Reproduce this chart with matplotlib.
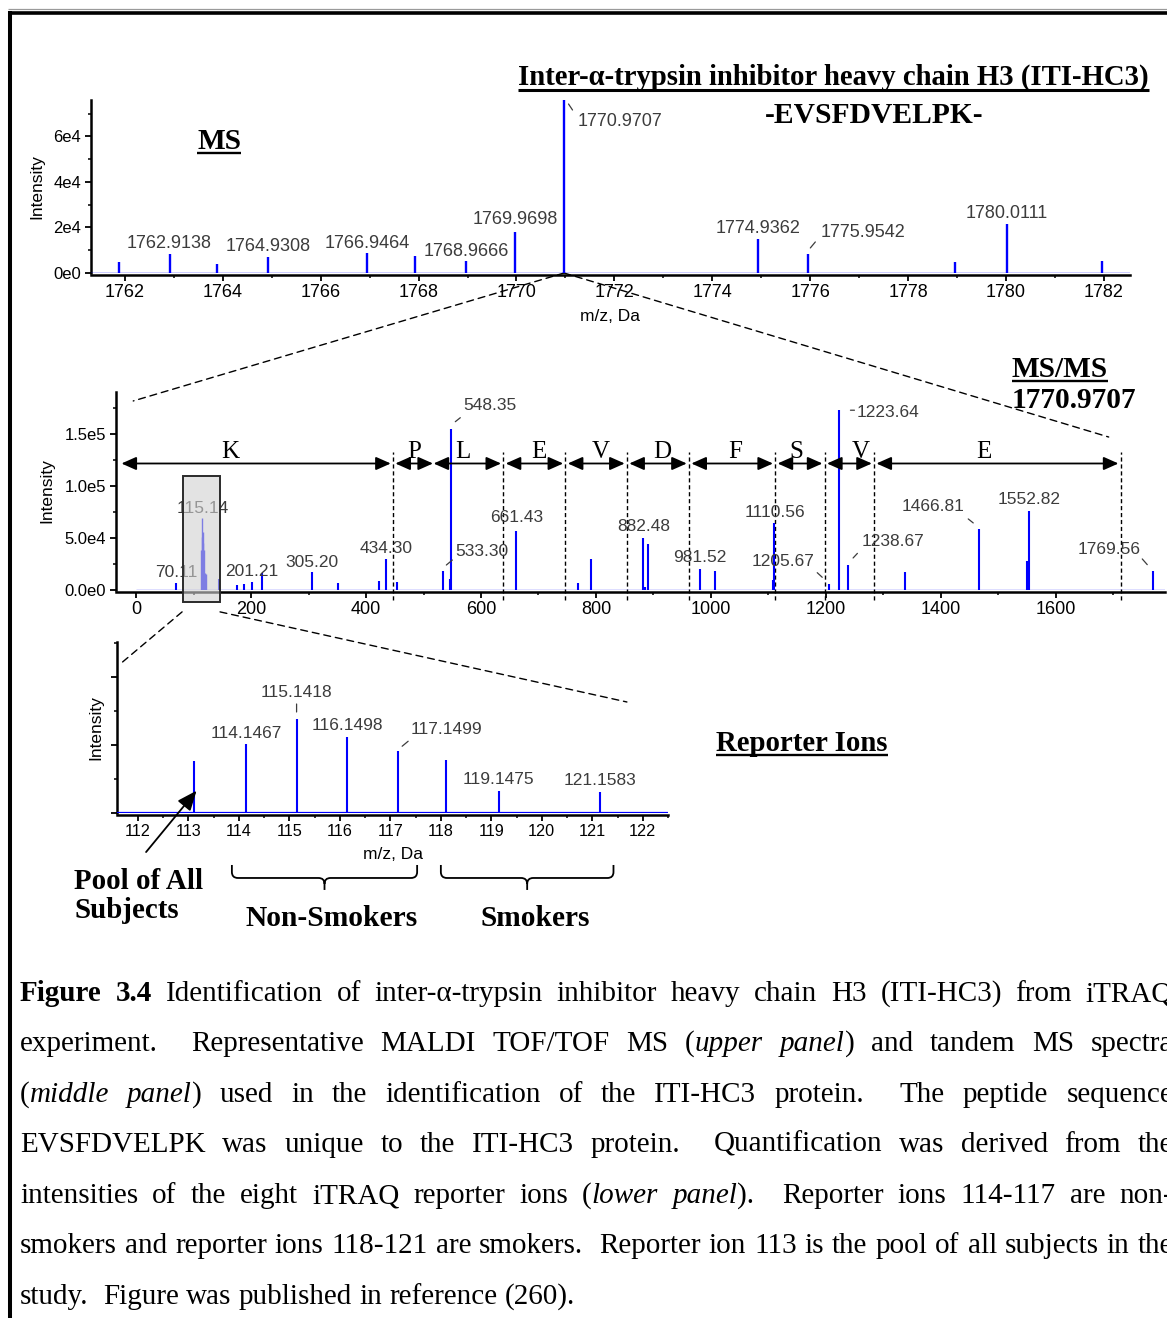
import re
import numpy as np
import matplotlib
matplotlib.use("Agg")
import matplotlib.pyplot as plt
from matplotlib import transforms
from matplotlib.patches import Rectangle, ConnectionPatch, PathPatch
from matplotlib.path import Path
from matplotlib.ticker import MultipleLocator, FuncFormatter, NullFormatter

plt.rcParams['font.family'] = ['Liberation Sans', 'DejaVu Sans']
SERIF = ['Liberation Serif', 'DejaVu Serif']

# ---------------- MS survey scan around the precursor ----------------
ms_mz = [1761.88, 1762.9138, 1763.88, 1764.9308, 1766.9464, 1767.93, 1768.9666,
         1769.9698, 1770.9707, 1774.9362, 1775.9542, 1778.95, 1780.0111, 1781.95]
ms_int = [5.0e3, 8.5e3, 3.8e3, 7.0e3, 8.6e3, 7.4e3, 5.1e3,
          1.82e4, 7.6e4, 1.51e4, 8.5e3, 4.8e3, 2.14e4, 5.1e3]
ms_labels = [1762.9138, 1764.9308, 1766.9464, 1768.9666, 1769.9698,
             1770.9707, 1774.9362, 1775.9542, 1780.0111]
precursor_mz = 1770.9707

# ---------------- MS/MS fragment spectrum of the precursor ----------------
msms_mz = [70.11, 144.10, 175.12, 188.0, 201.21, 219.0, 305.20, 352.0, 422.0, 434.30,
           454.0, 533.30, 546.5, 548.35, 661.43, 768.0, 791.0, 882.48, 886.0, 891.0,
           981.52, 1007.0, 1108.5, 1110.56, 1205.67, 1223.64, 1238.67, 1337.0,
           1466.81, 1550.5, 1552.82, 1769.56]
msms_int = [6.4e3, 1.06e4, 4.8e3, 5.4e3, 7.3e3, 1.65e4, 1.73e4, 6.4e3, 8.6e3, 2.94e4,
            7.7e3, 1.85e4, 1.05e4, 1.545e5, 5.7e4, 6.4e3, 2.94e4, 5.0e4, 3.0e3, 4.4e4,
            2.0e4, 1.8e4, 1.0e4, 6.4e4, 5.3e3, 1.73e5, 2.43e4, 1.73e4,
            5.86e4, 2.8e4, 7.6e4, 1.79e4]
msms_labels = [70.11, 115.14, 201.21, 305.20, 434.30, 533.30, 548.35, 661.43, 882.48,
               981.52, 1110.56, 1205.67, 1223.64, 1238.67, 1466.81, 1552.82, 1769.56]

# y-ion ladder: residue letters and m/z boundaries between successive fragments
seq_res = ['K', 'P', 'L', 'E', 'V', 'D', 'F', 'S', 'V', 'E']
seq_bounds = [-26, 447, 517, 639, 747, 854, 962, 1112, 1198, 1284, 1713]
seq_label_mz = [164, 484, 569, 700, 809, 915, 1043, 1149, 1260, 1475]
seq_marked = [447, 639, 747, 854, 962, 1112, 1198, 1284, 1713]

# ---------------- iTRAQ 8-plex reporter ions ----------------
reporter_mz = [113.11, 114.1467, 115.1418, 116.1498, 117.1499, 118.11, 119.1475, 121.1583]
reporter_int = [3.80e4, 5.07e4, 6.91e4, 5.61e4, 4.54e4, 3.87e4, 1.64e4, 1.57e4]
reporter_labels = [114.1467, 115.1418, 116.1498, 117.1499, 119.1475, 121.1583]
zoom_window = (82, 146)

caption_lines = [
    "*Figure* *3.4* Identification of inter-\u03b1-trypsin inhibitor heavy chain H3 (ITI-HC3) from iTRAQ",
    "experiment.  Representative MALDI TOF/TOF MS (_upper_ _panel_) and tandem MS spectra",
    "(_middle_ _panel_) used in the identification of the ITI-HC3 protein.  The peptide sequence",
    "EVSFDVELPK was unique to the ITI-HC3 protein.  Quantification was derived from the",
    "intensities of the eight iTRAQ reporter ions (_lower_ _panel_).  Reporter ions 114-117 are non-",
    "smokers and reporter ions 118-121 are smokers.  Reporter ion 113 is the pool of all subjects in the",
    "study.  Figure was published in reference (260).",
]

# ---------------- figure scaffolding ----------------
W, H = 1167, 1318
fig = plt.figure(figsize=(W / 100, H / 100), dpi=100)
fig.patch.set_facecolor('white')


def frame(l, t, r, b):
    return [l / W, 1 - b / H, (r - l) / W, (b - t) / H]


page = fig.add_axes([0, 0, 1, 1], zorder=0)
page.set_xlim(0, W)
page.set_ylim(H, 0)
page.axis('off')

ax_ms = fig.add_axes(frame(91, 100, 1130, 273), zorder=2)
ax_msms = fig.add_axes(frame(116, 392, 1165, 590), zorder=2)
ax_rep = fig.add_axes(frame(117, 642, 668, 813), zorder=2)

BLUE = '#0000ff'
GREY = '#3c3c3c'


def style_axes(ax, xtick_fs=13, ytick_fs=12):
    ax.set_facecolor('none')
    for s in ('top', 'right'):
        ax.spines[s].set_visible(False)
    for s in ('left', 'bottom'):
        ax.spines[s].set_linewidth(1.8)
    ax.spines['bottom'].set_position(('outward', 1.2))
    ax.tick_params(which='major', direction='out', length=4, width=1.3,
                   pad=3, colors='black')
    ax.tick_params(which='minor', direction='out', length=2.5, width=1.1)
    ax.tick_params(axis='x', labelsize=xtick_fs)
    ax.tick_params(axis='y', labelsize=ytick_fs)


def sci_plain(v, pos):
    if abs(v) < 1e-9:
        return '0e0'
    e = int(np.floor(np.log10(abs(v)) + 1e-9))
    return f'{v / 10 ** e:.0f}e{e}'


def sci_one(v, pos):
    if abs(v) < 1e-9:
        return '0.0e0'
    e = int(np.floor(np.log10(abs(v)) + 1e-9))
    return f'{v / 10 ** e:.1f}e{e}'


def place_axis_labels(ax, xlab, xy_x, ylab, xy_y, fs=12.5):
    if xlab:
        lx = ax.set_xlabel(xlab, fontsize=fs)
        lx.set_va('center')
        ax.xaxis.set_label_coords(*xy_x)
    ly = ax.set_ylabel(ylab, fontsize=fs)
    ly.set_va('center')
    ax.yaxis.set_label_coords(*xy_y)


def peak_label(ax, mz, inten, text, dx=0.0, dy=12.5, ha='center', leader=None,
               size=12.5, z=3):
    half = 0.358 * size / 0.72
    tr = transforms.offset_copy(ax.transData, fig=fig, x=dx, y=dy - half, units='dots')
    ax.text(mz, inten, text, transform=tr, ha=ha, va='baseline', fontsize=size,
            color=GREY, zorder=z, clip_on=False)
    if leader:
        (x1, y1), (x2, y2) = leader
        ax.annotate('', xy=(mz, inten),
                    xycoords=transforms.offset_copy(ax.transData, fig=fig, x=x1, y=y1, units='dots'),
                    xytext=(mz, inten),
                    textcoords=transforms.offset_copy(ax.transData, fig=fig, x=x2, y=y2, units='dots'),
                    arrowprops=dict(arrowstyle='-', lw=0.9, color=GREY, shrinkA=0, shrinkB=0),
                    zorder=z)


def nearest(mzs, ints, target):
    i = int(np.argmin(np.abs(np.asarray(mzs) - target)))
    return mzs[i], ints[i]


for ax in (ax_ms, ax_msms):
    style_axes(ax)
style_axes(ax_rep, xtick_fs=11.7, ytick_fs=11.7)

# ---------------- upper panel: MS ----------------
ax_ms.set_xlim(1761.31, 1782.53)
ax_ms.set_ylim(0, 7.6e4)
ax_ms.axhline(0, color=BLUE, lw=1.0, zorder=2.6)
ax_ms.vlines(ms_mz, 0, ms_int, color=BLUE, lw=1.7, zorder=3)
ax_ms.xaxis.set_major_locator(MultipleLocator(2))
ax_ms.xaxis.set_minor_locator(MultipleLocator(1))
ax_ms.yaxis.set_major_locator(MultipleLocator(2e4))
ax_ms.yaxis.set_minor_locator(MultipleLocator(1e4))
ax_ms.yaxis.set_major_formatter(FuncFormatter(sci_plain))
place_axis_labels(ax_ms, 'm/z, Da', (0.5, -0.249), 'Intensity', (-0.052, 0.5))

ms_label_style = {
    1769.9698: dict(dy=13.6),
    1770.9707: dict(dx=14, dy=-20, ha='left', leader=((4.5, -4), (8.5, -10))),
    1775.9542: dict(dx=12.3, dy=22.7, ha='left', leader=((2.3, 5.7), (7.3, 11.7))),
}
for m in ms_labels:
    pm, pi = nearest(ms_mz, ms_int, m)
    peak_label(ax_ms, pm, pi, f'{m:.4f}', size=13, **ms_label_style.get(m, dict(dy=12.3)))

# ---------------- middle panel: MS/MS ----------------
ax_msms.set_xlim(-35, 1790)
ax_msms.set_ylim(0, 1.9e5)
ax_msms.hlines(0, 0, 1790, color='#5a5aff', lw=1.0, zorder=2.6)
ax_msms.vlines(msms_mz, 0, msms_int, color=BLUE, lw=1.5, zorder=3)
ax_msms.vlines(reporter_mz, 0, reporter_int, color=BLUE, lw=1.0, zorder=3)
ax_msms.xaxis.set_major_locator(MultipleLocator(200))
ax_msms.xaxis.set_minor_locator(MultipleLocator(100))
ax_msms.yaxis.set_major_locator(MultipleLocator(5e4))
ax_msms.yaxis.set_minor_locator(MultipleLocator(2.5e4))
ax_msms.yaxis.set_major_formatter(FuncFormatter(sci_one))
place_axis_labels(ax_msms, None, None, 'Intensity', (-0.0658, 0.5))

msms_label_style = {
    115.14: dict(dy=11),
    305.20: dict(dy=11),
    533.30: dict(dx=12.7, dy=20.7, ha='left', leader=((3.7, 5.7), (9.7, 10.7))),
    548.35: dict(dx=12, dy=25, ha='left', leader=((4, 7.3), (9, 11.3))),
    661.43: dict(dy=14.6),
    1205.67: dict(dx=-45.6, dy=24.5, leader=((-6.9, 7.2), (-11.9, 11.8))),
    1223.64: dict(dx=17.3, dy=-0.7, ha='left', leader=((11, -0.5), (15, -0.5))),
    1238.67: dict(dx=13.3, dy=24.7, ha='left', leader=((5, 6.7), (9.3, 11.3))),
    1466.81: dict(dx=-46, dy=24.3, leader=((-6, 6), (-11, 10))),
    1552.82: dict(dy=13.3),
    1769.56: dict(dx=-44.3, dy=24, leader=((-6, 6.7), (-11, 12.4))),
}
for m in msms_labels:
    if zoom_window[0] < m < zoom_window[1]:
        pm, pi = nearest(reporter_mz, reporter_int, m)
    else:
        pm, pi = nearest(msms_mz, msms_int, m)
    peak_label(ax_msms, pm, pi, f'{m:.2f}', **msms_label_style.get(m, dict(dy=13)))

# shaded window over the reporter-ion region
ax_msms.add_patch(Rectangle((zoom_window[0], -1.15e4), zoom_window[1] - zoom_window[0], 1.209e5,
                            facecolor=(0.82, 0.82, 0.82, 0.6), edgecolor='#2a2a2a',
                            lw=1.4, zorder=4, clip_on=False))

# y-ion ladder
arrow_y, letter_y = 1.214e5, 1.27e5
for x in seq_marked:
    ax_msms.plot([x, x], [-0.96e4, 1.324e5], color='black', lw=1.0,
                 ls=(0, (3.0, 2.0)), zorder=2.5, clip_on=False)
for i, res in enumerate(seq_res):
    a, b = seq_bounds[i], seq_bounds[i + 1]
    pa = 4 if a in seq_marked else 0.5
    pb = 4 if b in seq_marked else 0.5
    ax_msms.annotate('', xy=(b - pb, arrow_y), xytext=(a + pa, arrow_y),
                     arrowprops=dict(arrowstyle='<|-|>,head_length=0.45,head_width=0.2',
                                     mutation_scale=20, lw=1.3, color='black',
                                     shrinkA=0, shrinkB=0), zorder=5)
    ax_msms.text(seq_label_mz[i], letter_y, res, ha='center', va='baseline',
                 fontsize=18, family=SERIF, color='black', zorder=5)

# ---------------- lower panel: reporter ions ----------------
ax_rep.set_xlim(111.584, 122.5)
ax_rep.set_ylim(0, 1.257e5)
ax_rep.axhline(0, color=BLUE, lw=1.6, zorder=2.6)
ax_rep.vlines(reporter_mz, 0, reporter_int, color=BLUE, lw=1.5, zorder=3)
ax_rep.xaxis.set_major_locator(MultipleLocator(1))
ax_rep.xaxis.set_minor_locator(MultipleLocator(0.5))
ax_rep.yaxis.set_major_locator(MultipleLocator(5e4))
ax_rep.yaxis.set_minor_locator(MultipleLocator(2.5e4))
ax_rep.yaxis.set_major_formatter(NullFormatter())
place_axis_labels(ax_rep, 'm/z, Da', (0.5, -0.2456), 'Intensity', (-0.0381, 0.5))

rep_label_style = {
    115.1418: dict(dy=28, leader=((0, 7), (0, 15))),
    117.1499: dict(dx=12.2, dy=23, ha='left', leader=((4.2, 5), (10.2, 10))),
}
for m in reporter_labels:
    pm, pi = nearest(reporter_mz, reporter_int, m)
    peak_label(ax_rep, pm, pi, f'{m:.4f}', **rep_label_style.get(m, dict(dy=12.5)))

# braces grouping the channels
bt = transforms.blended_transform_factory(ax_rep.transData, ax_rep.transAxes)


def brace(x0, x1, ytop=-0.304, ybar=-0.380, ytip=-0.450, rx=0.12, ry=0.035):
    xc = 0.5 * (x0 + x1)
    verts = [(x0, ytop), (x0, ybar + ry), (x0, ybar), (x0 + rx, ybar),
             (xc - rx, ybar), (xc, ybar), (xc, ybar - ry), (xc, ytip),
             (xc, ybar - ry), (xc, ybar), (xc + rx, ybar),
             (x1 - rx, ybar), (x1, ybar), (x1, ybar + ry), (x1, ytop)]
    codes = [Path.MOVETO, Path.LINETO, Path.CURVE3, Path.CURVE3,
             Path.LINETO, Path.CURVE3, Path.CURVE3, Path.LINETO,
             Path.MOVETO, Path.CURVE3, Path.CURVE3,
             Path.LINETO, Path.CURVE3, Path.CURVE3, Path.LINETO]
    ax_rep.add_patch(PathPatch(Path(verts, codes), transform=bt, fill=False,
                               lw=1.3, color='black', clip_on=False))


brace(113.86, 117.53)
brace(118.0, 121.42)

ax_rep.annotate('', xy=(113.16, 1.64e4), xytext=(112.16, -2.87e4),
                arrowprops=dict(arrowstyle='-|>,head_length=0.6,head_width=0.25',
                                mutation_scale=20, lw=1.3, color='black',
                                shrinkA=0, shrinkB=0), zorder=5)

# ---------------- zoom connectors ----------------
dash = (0, (5.0, 3.5))
for xyB in [(-5, 1.814e5), (1692, 1.468e5)]:
    fig.add_artist(ConnectionPatch(xyA=(precursor_mz, 0), coordsA=ax_ms.transData,
                                   xyB=xyB, coordsB=ax_msms.transData,
                                   ls=dash, lw=1.0, color='black'))
for xyA, xyB in [((80, -2.1e4), (111.646, 1.095e5)), ((146, -2.1e4), (121.686, 8.16e4))]:
    fig.add_artist(ConnectionPatch(xyA=xyA, coordsA=ax_msms.transData,
                                   xyB=xyB, coordsB=ax_rep.transData,
                                   ls=dash, lw=1.0, color='black'))

# ---------------- page border ----------------
page.plot([8, W], [8.5, 8.5], color='#9a9a9a', lw=0.9, solid_capstyle='butt')
page.plot([8, W], [12.5, 12.5], color='black', lw=2.6, solid_capstyle='butt')
page.plot([10, 10], [11, H], color='black', lw=2.9, solid_capstyle='butt')

renderer = fig.canvas.get_renderer()


def width_of(t):
    return t.get_window_extent(renderer).width


def headline(s, x0, x1, baseline, size=21, underline=None):
    t = page.text(x0, baseline, s, ha='left', va='baseline', fontsize=size,
                  family=SERIF, fontweight='bold', color='black')
    w = width_of(t)
    t.set_fontsize(float(np.clip(size * (x1 - x0) / w, size * 0.85, size * 1.12)))
    if underline:
        w = width_of(t)
        page.plot([x0, x0 + w], [baseline + underline[0]] * 2, color='black',
                  lw=underline[1], solid_capstyle='butt')
    return t


headline('Inter-\u03b1-trypsin inhibitor heavy chain H3 (ITI-HC3)', 518, 1150, 85,
         size=20, underline=(5, 2.2))
headline('-EVSFDVELPK-', 765, 983, 123)
headline('MS', 197, 241, 149, underline=(3.5, 1.7))
headline('MS/MS', 1012, 1108, 377, underline=(3.5, 1.7))
headline('1770.9707', 1012, 1137, 408)
headline('Reporter Ions', 716, 887, 751, size=20, underline=(3.5, 1.7))
headline('Pool of All', 74, 203, 889)
headline('Subjects', 74, 178, 918)
headline('Non-Smokers', 246, 418, 926)
headline('Smokers', 481, 590, 926)

# ---------------- justified caption ----------------
CAP_FS = 21
CAP_L, CAP_R = 20, 1173
cap_base = [1001, 1051, 1102, 1152, 1203, 1253, 1304]


def segments(word):
    segs, bold, ital, buf = [], False, False, ''
    for ch in word:
        if ch in '*_':
            if buf:
                segs.append((buf, bold, ital))
                buf = ''
            if ch == '*':
                bold = not bold
            else:
                ital = not ital
        else:
            buf += ch
    if buf:
        segs.append((buf, bold, ital))
    return segs


def cap_text(s, y, bold=False, ital=False):
    return page.text(0, y, s, fontsize=CAP_FS, family=SERIF,
                     fontweight='bold' if bold else 'normal',
                     fontstyle='italic' if ital else 'normal',
                     ha='left', va='baseline', color='black')


t1, t2 = cap_text('n n', 0), cap_text('nn', 0)
space_w = width_of(t1) - width_of(t2)
t1.remove()
t2.remove()

for i, (line, yb) in enumerate(zip(caption_lines, cap_base)):
    parts = re.split(r'( +)', line)
    words = parts[0::2]
    gaps = [len(g) for g in parts[1::2]]
    arts = []
    for wd in words:
        wa = []
        for s, b, it in segments(wd):
            t = cap_text(s, yb, b, it)
            wa.append((t, width_of(t)))
        arts.append(wa)
    total = sum(w for wa in arts for _, w in wa)
    if i < len(caption_lines) - 1:
        unit = (CAP_R - CAP_L - total) / sum(gaps)
    else:
        unit = space_w
    x = CAP_L
    for k, wa in enumerate(arts):
        for t, w in wa:
            t.set_x(x)
            x += w
        if k < len(gaps):
            x += gaps[k] * unit

fig.savefig('out.png', dpi=100, facecolor='white')
